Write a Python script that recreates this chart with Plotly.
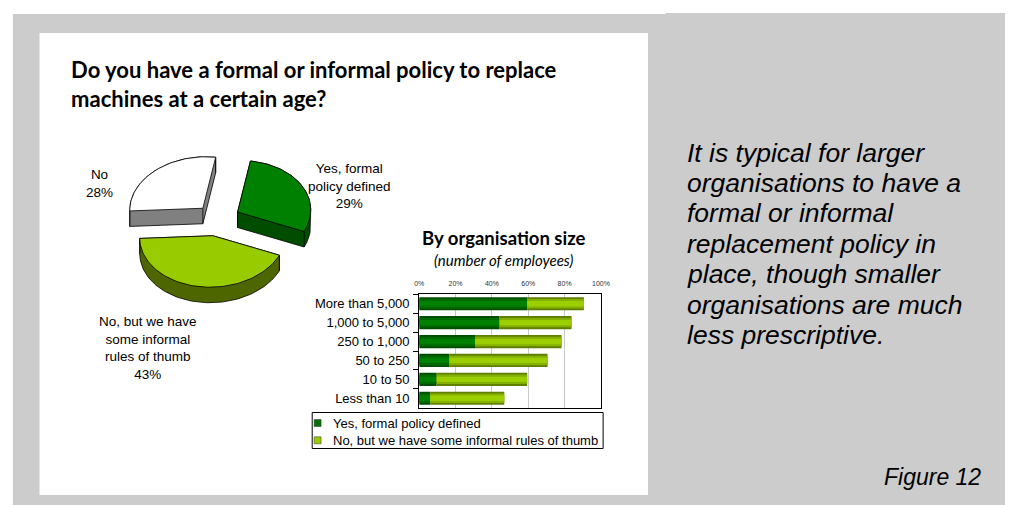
import numpy as np
import plotly.graph_objects as go

W, H = 1014, 505

# ---------------- data ----------------
pie_names = ["Yes, formal policy defined", "No, but we have some informal rules of thumb", "No"]
pie_label_text = ["Yes, formal<br>policy defined", "No, but we have<br>some informal<br>rules of thumb", "No"]
pie_values = [29, 43, 28]
pie_top_colors = ["#008000", "#99CC00", "#FFFFFF"]
pie_side_colors = ["#004D00", "#4D6600", "#808080"]

size_categories = ["More than 5,000", "1,000 to 5,000", "250 to 1,000", "50 to 250", "10 to 50", "Less than 10"]
formal_pct = [59.4, 44.2, 30.7, 16.6, 9.6, 6.1]
informal_pct = [31.2, 39.6, 47.6, 54.0, 49.8, 40.7]
series_names = ["Yes, formal policy defined", "No, but we have some informal rules of thumb"]
pct_ticks = [0, 20, 40, 60, 80, 100]

commentary_lines = ["It is typical for larger", "organisations to have a", "formal or informal",
                    "replacement policy in", "place, though smaller", "organisations are much",
                    "less prescriptive."]

# ---------------- styling ----------------
ARIAL = "Liberation Sans"
CAL = "Lato"

def px(x):
    return x / W

def py(y):
    return 1 - y / H

fig = go.Figure()

# ---------------- 3D pie (pixel axes) ----------------
PIE_C = np.array([215.5, 220.0])
PIE_M = np.array([[73.0, 13.0], [7.0, -51.0]])
EXPLODE = 0.31
DEPTH = 15.5

fr = np.array(pie_values, dtype=float) / sum(pie_values)
starts = 360 * np.concatenate([[0], np.cumsum(fr)[:-1]])
ends = starts + 360 * fr


def proj(theta_deg):
    t = np.radians(np.atleast_1d(theta_deg))
    return (PIE_M @ np.vstack([np.sin(t), np.cos(t)])).T


def cross(o, a, b):
    return (a[0] - o[0]) * (b[1] - o[1]) - (a[1] - o[1]) * (b[0] - o[0])


def hull(points):
    idx = sorted(range(len(points)), key=lambda i: (points[i][0], points[i][1]))
    lower, upper = [], []
    for i in idx:
        while len(lower) >= 2 and cross(points[lower[-2]], points[lower[-1]], points[i]) <= 1e-9:
            lower.pop()
        lower.append(i)
    for i in reversed(idx):
        while len(upper) >= 2 and cross(points[upper[-2]], points[upper[-1]], points[i]) <= 1e-9:
            upper.pop()
        upper.append(i)
    return lower[:-1] + upper[:-1]


slices = []
for i in range(len(pie_values)):
    s, e = starts[i], ends[i]
    mid = (s + e) / 2
    apex = PIE_C + EXPLODE * proj(mid)[0]
    n = max(10, int((e - s) / 2))
    arc = apex + proj(np.linspace(s, e, n))
    top = np.vstack([apex, arc])
    slices.append((i, apex, top))

# paint back-to-front
slices.sort(key=lambda t: t[1][1])
for i, apex, top in slices:
    n = len(top)
    pts = np.vstack([top, top + np.array([0, DEPTH])])
    h = hull([tuple(p) for p in pts])
    hp = pts[h]
    fig.add_trace(go.Scatter(x=np.append(hp[:, 0], hp[0, 0]), y=np.append(hp[:, 1], hp[0, 1]),
                             mode="lines", fill="toself", fillcolor=pie_side_colors[i],
                             line=dict(color="black", width=0.8), hoverinfo="skip",
                             showlegend=False, xaxis="x", yaxis="y"))
    ex, ey = [], []
    for c in [0, 1, n - 1]:
        if (c + n) in h:
            ex += [top[c, 0], top[c, 0], None]
            ey += [top[c, 1], top[c, 1] + DEPTH, None]
    if ex:
        fig.add_trace(go.Scatter(x=ex, y=ey, mode="lines", line=dict(color="black", width=0.8),
                                 hoverinfo="skip", showlegend=False, xaxis="x", yaxis="y"))
    fig.add_trace(go.Scatter(x=np.append(top[:, 0], top[0, 0]), y=np.append(top[:, 1], top[0, 1]),
                             mode="lines", fill="toself", fillcolor=pie_top_colors[i],
                             line=dict(color="black", width=0.8), name=pie_names[i],
                             hoverinfo="skip", showlegend=False, xaxis="x", yaxis="y"))

pie_label_pos = [(349, 186), (145.5, 348), (95.5, 183)]
annotations = []
for i in range(len(pie_values)):
    annotations.append(dict(x=pie_label_pos[i][0], y=pie_label_pos[i][1], xref="x", yref="y",
                            text=f"{pie_label_text[i]}<br>{pie_values[i]}%", showarrow=False,
                            font=dict(family=ARIAL, size=13.5, color="black"), align="center",
                            xanchor="center", yanchor="middle"))

# ---------------- stacked bars ----------------
formal_layers = [(0.70, "#004F00"), (0.50, "#006A00"), (0.28, "#008000")]
informal_layers = [(0.70, "#5F7F00"), (0.50, "#85B000"), (0.28, "#9CCF00")]
for k, (wd, col) in enumerate(formal_layers):
    fig.add_trace(go.Bar(y=size_categories, x=formal_pct, base=[0] * len(formal_pct), orientation="h",
                         width=wd, marker=dict(color=col, line=dict(width=0)), name=series_names[0],
                         showlegend=False, hoverinfo="skip", xaxis="x2", yaxis="y2"))
for k, (wd, col) in enumerate(informal_layers):
    fig.add_trace(go.Bar(y=size_categories, x=informal_pct, base=formal_pct, orientation="h",
                         width=wd, marker=dict(color=col, line=dict(width=0)), name=series_names[1],
                         showlegend=False, hoverinfo="skip", xaxis="x2", yaxis="y2"))

# ---------------- backgrounds ----------------
shapes = [
    dict(type="rect", xref="paper", yref="paper", x0=px(8), x1=px(1014), y0=py(505), y1=py(14),
         fillcolor="#CCCCCC", line=dict(width=0), layer="below"),
    dict(type="rect", xref="paper", yref="paper", x0=px(670), x1=px(1014), y0=py(40), y1=py(13),
         fillcolor="#CCCCCC", line=dict(width=0), layer="below"),
    dict(type="rect", xref="paper", yref="paper", x0=px(35), x1=px(652), y0=py(495), y1=py(33),
         fillcolor="#FFFFFF", line=dict(width=0), layer="below"),
]

# custom legend for the bar chart
shapes.append(dict(type="rect", xref="x", yref="y", x0=311.5, x1=606.5, y0=412.5, y1=448.5,
                   fillcolor="white", line=dict(color="black", width=1)))
leg_cols = ["#007000", "#99CC00"]
for j, yc in enumerate([423, 440.3]):
    shapes.append(dict(type="rect", xref="x", yref="y", x0=313.5, x1=320.5, y0=yc - 3.5, y1=yc + 3.5,
                       fillcolor=leg_cols[j], line=dict(color="#333333", width=0.5)))
    annotations.append(dict(x=330.5, y=yc, xref="x", yref="y", text=series_names[j], showarrow=False,
                            xanchor="left", yanchor="middle", font=dict(family=ARIAL, size=13, color="black")))

# bar chart titles
annotations.append(dict(x=505.5, y=237.5, xref="x", yref="y", text="<b>By organisation size</b>",
                        showarrow=False, xanchor="center", yanchor="middle",
                        font=dict(family=CAL, size=18.5, color="black")))
annotations.append(dict(x=505.5, y=259.5, xref="x", yref="y", text="(number of employees)",
                        showarrow=False, xanchor="center", yanchor="middle",
                        font=dict(family=CAL, size=15, color="black", style="italic")))

# commentary text
for k, line in enumerate(commentary_lines):
    annotations.append(dict(x=690, y=152.5 + 30.4 * k, xref="x", yref="y", text=line, showarrow=False,
                            xanchor="left", yanchor="middle",
                            font=dict(family=ARIAL, size=26.5, color="black", style="italic")))
annotations.append(dict(x=992, y=477, xref="x", yref="y", text="Figure 12", showarrow=False,
                        xanchor="right", yanchor="middle",
                        font=dict(family=ARIAL, size=23, color="black", style="italic")))

fig.update_layout(
    width=W, height=H, margin=dict(l=0, r=0, t=0, b=0),
    paper_bgcolor="white", plot_bgcolor="rgba(0,0,0,0)",
    barmode="overlay", hovermode=False, showlegend=False,
    title=dict(text="Do you have a formal or informal policy to replace<br>machines at a certain age?",
               x=px(67), xanchor="left", xref="paper", y=py(78), yanchor="top", yref="paper",
               font=dict(family=CAL, size=22, color="black", weight="bold")),
    xaxis=dict(domain=[0, 1], range=[0, W], visible=False, fixedrange=True),
    yaxis=dict(domain=[0, 1], range=[H, 0], visible=False, fixedrange=True),
    xaxis2=dict(domain=[px(420), px(604.3)], anchor="y2", side="top", range=[0, 100],
                tickvals=pct_ticks, ticktext=[f"{v}%" for v in pct_ticks],
                tickfont=dict(family=ARIAL, size=7, color="#333333"), ticklabelstandoff=5,
                showgrid=True, gridcolor="#C8C8C8", gridwidth=1, zeroline=False,
                showline=True, linecolor="black", linewidth=1, mirror=True, ticks="", fixedrange=True),
    yaxis2=dict(domain=[py(407.7), py(294.3)], anchor="x2", type="category",
                categoryorder="array", categoryarray=size_categories, autorange="reversed",
                showline=True, linecolor="black", linewidth=1, mirror=True, showgrid=False,
                ticks="outside", tickson="boundaries", ticklen=5, tickcolor="black",
                tickfont=dict(family=ARIAL, size=13, color="black"), ticklabelstandoff=6, fixedrange=True),
    shapes=shapes, annotations=annotations,
)

fig.write_html("out.html")
